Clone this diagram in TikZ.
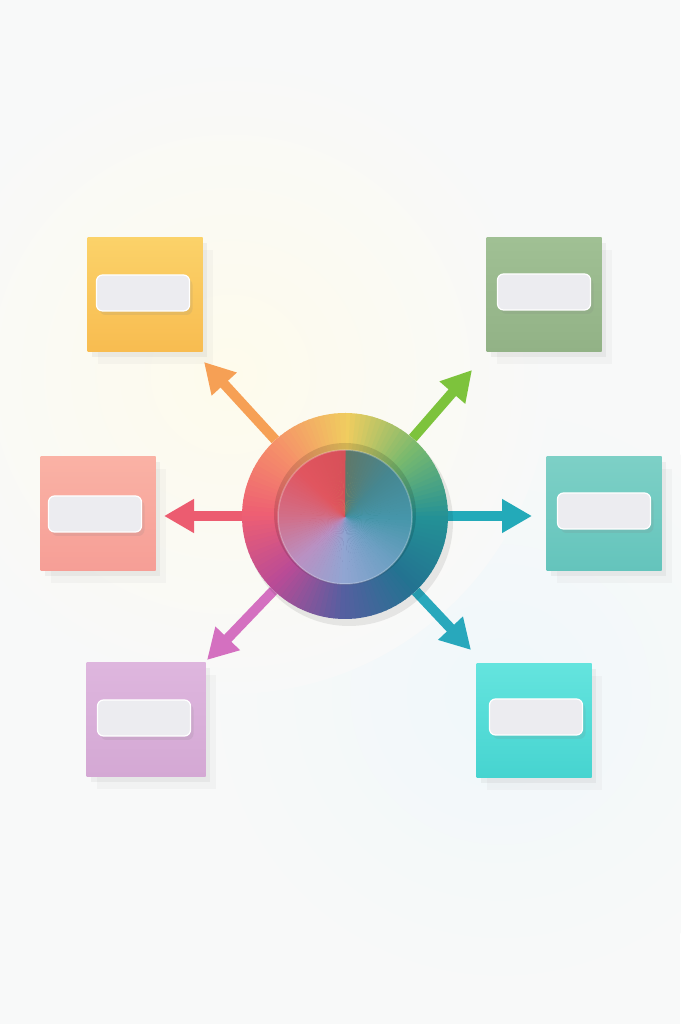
\documentclass[tikz,border=0pt]{standalone}
\usepackage{tikz}
\usetikzlibrary{arrows.meta}
\usetikzlibrary{shadows}
\usetikzlibrary{positioning}

\definecolor{bgc}{RGB}{248,249,249}
\definecolor{glow}{RGB}{254,251,236}
\definecolor{cool}{RGB}{240,248,250}
% tiles
\definecolor{yelT}{RGB}{251,210,105}
\definecolor{yelB}{RGB}{248,188,80}
\definecolor{sagT}{RGB}{160,192,148}
\definecolor{sagB}{RGB}{146,178,134}
\definecolor{pinT}{RGB}{250,178,165}
\definecolor{pinB}{RGB}{246,158,150}
\definecolor{tealT}{RGB}{125,208,198}
\definecolor{tealB}{RGB}{100,196,188}
\definecolor{lavT}{RGB}{222,182,222}
\definecolor{lavB}{RGB}{212,168,212}
\definecolor{cyaT}{RGB}{100,228,222}
\definecolor{cyaB}{RGB}{70,212,208}
\definecolor{barc}{RGB}{236,236,240}
% arrows
\definecolor{arrNW}{RGB}{246,160,85}
\definecolor{arrNE}{RGB}{125,195,60}
\definecolor{arrW}{RGB}{236,92,112}
\definecolor{arrE}{RGB}{35,170,185}
\definecolor{arrSW}{RGB}{212,112,192}
\definecolor{arrSE}{RGB}{40,168,188}
% outer ring, clockwise from top
\definecolor{ringa}{RGB}{240,205,95}
\definecolor{ringb}{RGB}{120,185,110}
\definecolor{ringc}{RGB}{35,145,150}
\definecolor{ringd}{RGB}{35,115,145}
\definecolor{ringe}{RGB}{85,95,160}
\definecolor{ringf}{RGB}{185,75,150}
\definecolor{ringg}{RGB}{238,95,115}
\definecolor{ringh}{RGB}{245,145,105}
% inner disk, clockwise from top
\definecolor{inna}{RGB}{95,120,105}
\definecolor{innb}{RGB}{70,135,145}
\definecolor{innc}{RGB}{70,150,170}
\definecolor{innd}{RGB}{110,160,195}
\definecolor{inne}{RGB}{145,165,210}
\definecolor{innf}{RGB}{185,145,195}
\definecolor{inng}{RGB}{210,110,135}
\definecolor{innh}{RGB}{225,85,95}
\definecolor{inni}{RGB}{215,80,88}

\tikzset{tile/.style 2 args = {rectangle, minimum width=115pt, minimum height=114pt,
                               inner sep=0, top color=#1, bottom color=#2,
                               drop shadow={shadow xshift=10pt, shadow yshift=-12pt, opacity=.05},
                               drop shadow={shadow xshift=4pt, shadow yshift=-5pt, opacity=.09}}}
\tikzset{bar/.style = {rectangle, rounded corners=6pt, minimum width=93pt, minimum height=36pt,
                       inner sep=0, fill=barc, draw=white, line width=1.2pt,
                       drop shadow={shadow xshift=3pt, shadow yshift=-4pt, opacity=.14}}}
\tikzset{ray/.style = {line width=10pt, draw=#1,
                       -{Triangle[length=30pt, width=32pt]}}}

\begin{document}
\begin{tikzpicture}[x=1pt, y=1pt]
  \useasboundingbox (0, 0) rectangle (680, 1024);
  \fill [bgc] (0, 0) rectangle (680, 1024);
  \shade [inner color=cool, outer color=bgc] (500, 330) circle [radius=300];
  \shade [inner color=glow, outer color=bgc] (230, 650) circle [radius=320];

  % boxes
  \node [tile={yelT}{yelB}] (boxNW) at (145, 729) {};
  \node [tile={sagT}{sagB}] (boxNE) at (544, 729) {};
  \node [tile={pinT}{pinB}] (boxW) at (98, 510) {};
  \node [tile={tealT}{tealB}] (boxE) at (604, 510) {};
  \node [tile={lavT}{lavB}, minimum width=119pt] (boxSW) at (146, 304) {};
  \node [tile={cyaT}{cyaB}] (boxSE) at (534, 303) {};

  \node [bar] (barNW) at ([xshift=-2pt, yshift=2pt]boxNW) {};
  \node [bar] (barNE) at ([yshift=3pt]boxNE) {};
  \node [bar] (barW) at ([xshift=-3pt]boxW) {};
  \node [bar] (barE) at ([yshift=3pt]boxE) {};
  \node [bar] (barSW) at ([xshift=-2pt, yshift=2pt]boxSW) {};
  \node [bar] (barSE) at ([xshift=2pt, yshift=4pt]boxSE) {};

  % hub and arrows
  \node [circle, minimum size=206pt, inner sep=0] (hub) at (345, 508) {};
  \coordinate (tipNW) at (204, 662);
  \coordinate (tipNE) at (472, 654);
  \coordinate (tipW) at (164, 508);
  \coordinate (tipE) at (532, 508);
  \coordinate (tipSW) at (207, 364);
  \coordinate (tipSE) at (471, 374);

  \draw [ray=arrNW] (hub) -- (tipNW);
  \draw [ray=arrNE] (hub) -- (tipNE);
  \draw [ray=arrW] (hub) -- (tipW);
  \draw [ray=arrE] (hub) -- (tipE);
  \draw [ray=arrSW] (hub) -- (tipSW);
  \draw [ray=arrSE] (hub) -- (tipSE);

  \fill [black, opacity=.08] ([shift={(4, -6)}]hub.center) circle [radius=104];
  \foreach \ca/\cb [count=\i from 0] in {ringa/ringb, ringb/ringc, ringc/ringd, ringd/ringe,
                                         ringe/ringf, ringf/ringg, ringg/ringh, ringh/ringa}
    \foreach \j in {0,...,14} {
      \pgfmathsetmacro\ang{90-45*\i-3*\j}
      \pgfmathtruncatemacro\pc{100-100*\j/15}
      \fill [\ca!\pc!\cb] (hub.center) -- ++(\ang:103pt)
        arc [start angle=\ang, delta angle=-3.5, radius=103pt] -- cycle;
    }

  \fill [black, opacity=.12] ([shift={(0, 2)}]hub.center) circle [radius=71];
  \foreach \ca/\cb [count=\i from 0] in {inna/innb, innb/innc, innc/innd, innd/inne,
                                         inne/innf, innf/inng, inng/innh, innh/inni}
    \foreach \j in {0,...,14} {
      \pgfmathsetmacro\ang{90-45*\i-3*\j}
      \pgfmathtruncatemacro\pc{100-100*\j/15}
      \fill [\ca!\pc!\cb] ([yshift=-1pt]hub.center) -- ++(\ang:67pt)
        arc [start angle=\ang, delta angle=-3.5, radius=67pt] -- cycle;
    }
  \draw [white, opacity=.25, line width=1.5pt] ([yshift=-1pt]hub.center) circle [radius=67];
\end{tikzpicture}
\end{document}
